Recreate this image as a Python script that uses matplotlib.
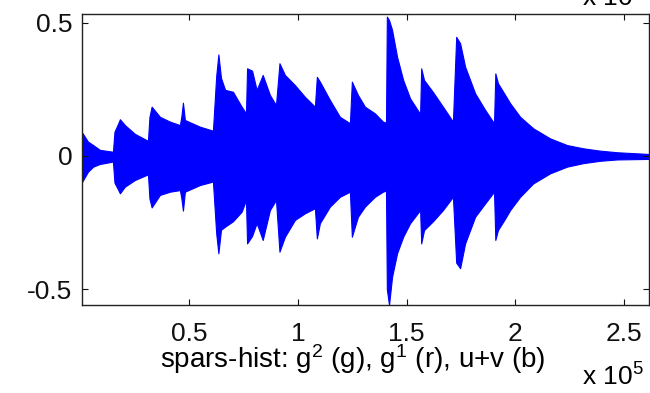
import matplotlib
matplotlib.use("Agg")
import matplotlib.pyplot as plt
from matplotlib.ticker import FuncFormatter

# envelope of the waveform (sample index, upper, lower)
sample_idx = [800, 3400, 5800, 8900, 14900, 15600, 17200, 18100, 20400, 25000,
              31000, 31700, 32700, 36500, 41100, 45700, 46400, 47100, 48000, 54900,
              60900, 62400, 63400, 64600, 66500, 70100, 74100, 76100, 76600, 78900,
              81000, 83800, 87100, 89900, 91500, 94000, 98600, 103200, 107800, 108700,
              110100, 114700, 119300, 123900, 124800, 127600, 130800, 135400, 139100, 140500,
              140900, 141900, 143300, 145600, 148400, 151600, 156200, 156700, 158000, 162100,
              166700, 171300, 172800, 174600, 176900, 181500, 186100, 190200, 190800, 192000,
              195300, 197600, 202200, 208200, 216000, 223800, 231100, 239000, 246800, 261500]
env_upper = [0.087, 0.054, 0.041, 0.023, 0.016, 0.091, 0.120, 0.138, 0.116, 0.083,
             0.057, 0.147, 0.185, 0.147, 0.129, 0.116, 0.150, 0.200, 0.135, 0.110,
             0.095, 0.300, 0.381, 0.293, 0.248, 0.241, 0.185, 0.160, 0.329, 0.320,
             0.248, 0.304, 0.229, 0.191, 0.348, 0.304, 0.266, 0.222, 0.185, 0.297,
             0.279, 0.210, 0.147, 0.123, 0.279, 0.229, 0.185, 0.160, 0.129, 0.125,
             0.523, 0.510, 0.473, 0.372, 0.285, 0.216, 0.158, 0.329, 0.285, 0.240,
             0.185, 0.129, 0.447, 0.423, 0.335, 0.235, 0.173, 0.123, 0.310, 0.273,
             0.229, 0.198, 0.147, 0.104, 0.066, 0.041, 0.029, 0.020, 0.014, 0.0075]
env_lower = [-0.096, -0.059, -0.040, -0.030, -0.021, -0.100, -0.125, -0.140, -0.115, -0.090,
             -0.069, -0.160, -0.193, -0.146, -0.134, -0.128, -0.160, -0.205, -0.134, -0.109,
             -0.096, -0.290, -0.365, -0.277, -0.265, -0.245, -0.209, -0.165, -0.328, -0.300,
             -0.252, -0.315, -0.203, -0.165, -0.359, -0.303, -0.240, -0.215, -0.196, -0.309,
             -0.252, -0.190, -0.153, -0.134, -0.303, -0.228, -0.190, -0.153, -0.134, -0.130,
             -0.500, -0.559, -0.453, -0.365, -0.303, -0.252, -0.203, -0.328, -0.278, -0.245,
             -0.203, -0.153, -0.400, -0.421, -0.328, -0.228, -0.178, -0.134, -0.315, -0.278,
             -0.235, -0.203, -0.153, -0.103, -0.065, -0.040, -0.027, -0.018, -0.013, -0.011]

x_ticks = [50000, 100000, 150000, 200000, 250000]
y_ticks = [-0.5, 0, 0.5]
x_label = "spars-hist: g$^2$ (g), g$^1$ (r), u+v (b)"
exp_label = "x 10$^5$"

plt.rcParams["font.family"] = ["Liberation Sans", "DejaVu Sans"]
plt.rcParams["mathtext.fontset"] = "custom"
plt.rcParams["mathtext.rm"] = "Liberation Sans"
plt.rcParams["mathtext.it"] = "Liberation Sans"

fs = 19
fig = plt.figure(figsize=(6.5, 3.93), dpi=100)
ax = fig.add_axes([0.1266, 0.2239, 0.8719, 0.7397])

ax.fill_between(sample_idx, env_lower, env_upper, color="#0000ff", lw=0.8)

ax.set_xlim(sample_idx[0], sample_idx[-1])
ax.set_ylim(-0.559, 0.5315)
ax.set_xticks(x_ticks)
ax.set_yticks(y_ticks)
ax.xaxis.set_major_formatter(FuncFormatter(lambda v, p: f"{v / 1e5:g}"))
ax.yaxis.set_major_formatter(FuncFormatter(lambda v, p: f"{v:g}"))
ax.tick_params(direction="in", length=4, width=0.8, top=True, right=True,
               labelsize=fs, colors="#111111")
ax.tick_params(axis="y", pad=7)
ax.tick_params(axis="x", pad=12)
for s in ax.spines.values():
    s.set_linewidth(1.0)
    s.set_color("#222222")

fig.text(353 / 650, 1 - 368 / 393, x_label, ha="center", va="baseline", fontsize=20)
# MATLAB-style exponent labels (bottom one for this axes, top one cut from the plot above)
fig.text(582 / 650, 1 - 386 / 393, exp_label, ha="left", va="baseline", fontsize=fs)
fig.text(582 / 650, 1 - 7 / 393, exp_label, ha="left", va="baseline", fontsize=fs)

fig.savefig("out.png", dpi=100)
